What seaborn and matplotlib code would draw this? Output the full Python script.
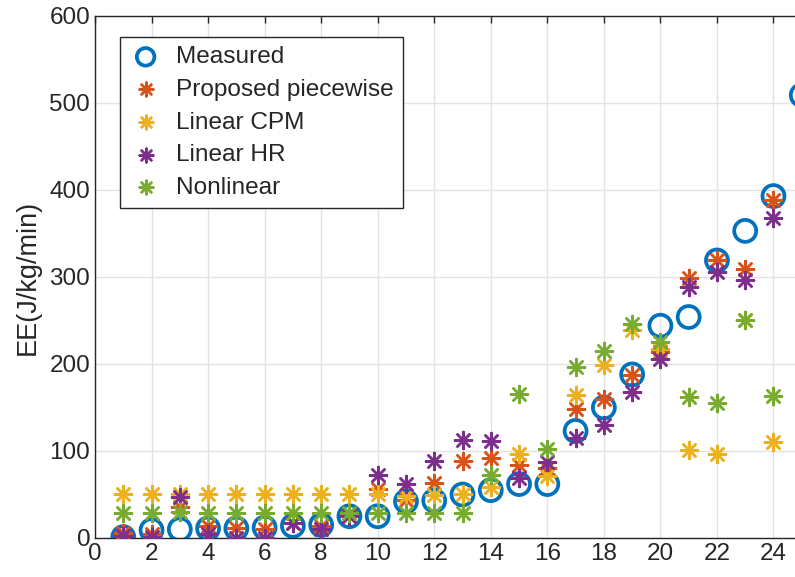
import numpy as np
import pandas as pd
import matplotlib
matplotlib.use("Agg")
import matplotlib.pyplot as plt
import seaborn as sns

x = list(range(1, 25))
measured = [1, 9, 10, 11, 11, 12, 14, 15, 25, 25, 42, 43, 50, 55, 62, 62,
            123, 150, 188, 244, 254, 319, 353, 393]
x_measured = x + [25]
measured = measured + [509]
proposed = [6, 5, 36, 14, 12, 10, 17, 14, 25, 56, 44, 63, 89, 92, 84, 81,
            148, 160, 187, 214, 299, 319, 309, 389]
linear_cpm = [50, 50, 50, 50, 50, 50, 50, 50, 50, 51, 48, 49, 51, 59, 97, 71,
              164, 199, 239, 217, 101, 97, 250, 110]
linear_hr = [2, 1, 47, 5, 0, 0, 17, 10, 25, 72, 62, 88, 113, 111, 69, 87,
             115, 130, 168, 206, 288, 306, 297, 368]
nonlinear = [29, 29, 30, 29, 29, 29, 29, 29, 29, 29, 29, 29, 29, 72, 166, 102,
             197, 215, 246, 225, 162, 155, 251, 163]

colors = ["#0072BD", "#D95319", "#EDB120", "#7E2F8E", "#77AC30"]
labels = ["Measured", "Proposed piecewise", "Linear CPM", "Linear HR", "Nonlinear"]

sns.set_style("white")
plt.rcParams["font.family"] = ["Liberation Sans", "DejaVu Sans"]

fig = plt.figure(figsize=(7.95, 5.77), dpi=100)
ax = fig.add_axes([0.1195, 0.0676, 0.889, 0.9047])

ast = (8, 2, 0)
sns.scatterplot(x=x_measured, y=measured, marker="o", s=250, facecolors="none",
                edgecolors=colors[0], linewidth=2.7, ax=ax, label=labels[0], zorder=3)
for vals, c, lab in zip([proposed, linear_cpm, linear_hr, nonlinear], colors[1:], labels[1:]):
    sns.scatterplot(x=x, y=vals, marker=ast, s=150, color=c, edgecolor=c,
                    linewidth=1.8, ax=ax, label=lab, zorder=3)

ax.set_xlim(0, 25)
ax.set_ylim(0, 600)
ax.set_xticks(range(0, 26, 2))
ax.set_yticks(range(0, 601, 100))
ax.set_ylabel("EE(J/kg/min)", fontsize=19.5, color="#262626", labelpad=6)
ax.grid(True, color="#e3e3e3", linewidth=1)
ax.tick_params(axis="both", which="both", direction="in", top=True, right=True,
               labelsize=17.5, length=5, width=1, colors="#262626")
for sp in ax.spines.values():
    sp.set_color("#262626")
    sp.set_linewidth(1)

leg = ax.legend(loc="upper left", bbox_to_anchor=(0.036, 0.96), fontsize=17.6,
                fancybox=False, edgecolor="#262626", framealpha=1, markerscale=0.8,
                handlelength=1.3, handletextpad=0.6, labelspacing=0.43,
                borderpad=0.38, borderaxespad=0)
leg.get_frame().set_linewidth(1)

fig.savefig("out.png", dpi=100)
